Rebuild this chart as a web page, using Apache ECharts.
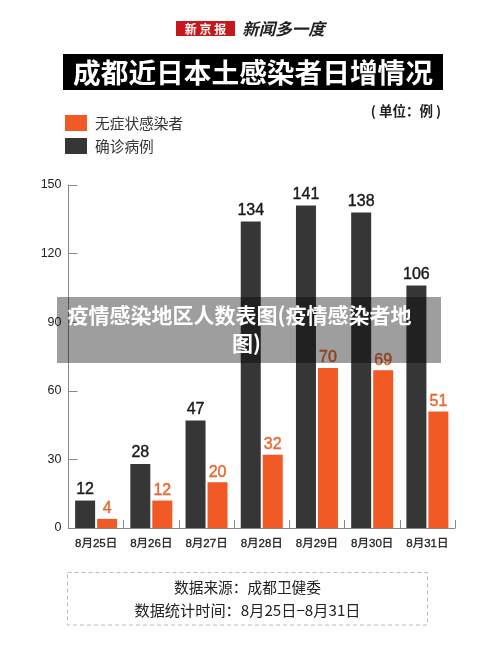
<!DOCTYPE html>
<html>
<head>
<meta charset="utf-8">
<style>
  html, body { margin: 0; padding: 0; background: #fff; }
  #main { width: 500px; height: 660px; }
</style>
<script src="https://cdn.jsdelivr.net/npm/echarts@6/dist/echarts.min.js"></script>
</head>
<body>
<div id="main"></div>
<script>
var categories = ['8月25日', '8月26日', '8月27日', '8月28日', '8月29日', '8月30日', '8月31日'];
var confirmed = [12, 28, 47, 134, 141, 138, 106];
var asymptomatic = [4, 12, 20, 32, 70, 69, 51];
var yTicks = [0, 30, 60, 90, 120, 150];

var cjk = '"Noto Sans CJK SC", sans-serif';
var latin = '"Liberation Sans", "Noto Sans CJK SC", sans-serif';

var myChart = echarts.init(document.getElementById('main'), null, { renderer: 'canvas' });

function txt(x, y, text, size, color, extra) {
  var style = { x: x, y: y, text: text, fontSize: size, fill: color, fontFamily: cjk, textAlign: 'center', textVerticalAlign: 'middle' };
  for (var k in extra) style[k] = extra[k];
  return { type: 'text', z: 10, style: style };
}

var option = {
  animation: false,
  backgroundColor: '#fff',
  grid: { left: 68.5, right: 45, top: 185, bottom: 132, containLabel: false },
  legend: {
    left: 65, top: 115, orient: 'vertical', padding: 0,
    itemWidth: 22, itemHeight: 16, itemGap: 7,
    icon: 'rect',
    data: ['无症状感染者', '确诊病例'],
    textStyle: { fontFamily: cjk, fontSize: 14.7, color: '#333', padding: [0, 0, 0, 3] }
  },
  xAxis: {
    type: 'category',
    data: categories,
    axisLine: { lineStyle: { color: '#888', width: 1 } },
    axisTick: { show: true, inside: true, length: 8, alignWithLabel: false, lineStyle: { color: '#888' } },
    axisLabel: { fontFamily: latin, fontSize: 11.5, color: '#222', textBorderColor: '#222', textBorderWidth: 0.3, margin: 10 }
  },
  yAxis: {
    type: 'value',
    min: yTicks[0], max: yTicks[yTicks.length - 1], interval: 30,
    axisLine: { show: true, lineStyle: { color: '#888', width: 1 } },
    axisTick: { show: true, inside: true, length: 9, lineStyle: { color: '#888' } },
    splitLine: { show: false },
    axisLabel: { fontFamily: latin, fontSize: 12.5, color: '#222', margin: 7 }
  },
  series: [
    {
      name: '确诊病例', type: 'bar', data: confirmed,
      barWidth: 20, barGap: '10%',
      itemStyle: { color: '#363636' },
      label: { show: true, position: 'top', distance: 3, fontFamily: latin, fontSize: 16, color: '#1a1a1a', textBorderColor: '#1a1a1a', textBorderWidth: 0.4 }
    },
    {
      name: '无症状感染者', type: 'bar', data: asymptomatic,
      barWidth: 20,
      itemStyle: { color: '#f15a24' },
      label: { show: true, position: 'top', distance: 2, fontFamily: latin, fontSize: 16, color: '#e8662f', textBorderColor: '#e8662f', textBorderWidth: 0.4 }
    }
  ],
  graphic: [
    // masthead
    { type: 'rect', z: 10, shape: { x: 176, y: 21, width: 59, height: 15 }, style: { fill: '#c8161d' } },
    txt(205.5, 29, '新 京 报', 12, '#fff', { fontWeight: 'bold' }),
    txt(283.5, 29, '新闻多一度', 16.5, '#222', { fontWeight: 'bold', fontStyle: 'italic' }),
    // title
    { type: 'rect', z: 10, shape: { x: 63, y: 54, width: 380, height: 36 }, style: { fill: '#000' } },
    txt(253, 72, '成都近日本土感染者日增情况', 27.7, '#fff', { fontWeight: 'bold' }),
    txt(406, 111, '( 单位：例 )', 13.5, '#222', { fontWeight: 'bold' }),
    // source box
    { type: 'rect', z: 10, shape: { x: 67.5, y: 572.5, width: 360, height: 52.5 },
      style: { fill: 'none', stroke: '#bbb', lineWidth: 1, lineDash: [4, 3] } },
    txt(247.5, 587, '数据来源：成都卫健委', 14.7, '#222'),
    txt(247.5, 610, '数据统计时间：8月25日−8月31日', 15.2, '#222'),
    // overlay banner
    { type: 'rect', z: 100, shape: { x: 57, y: 297, width: 384, height: 66 }, style: { fill: 'rgba(0,0,0,0.38)' } },
    { type: 'text', z: 101, style: { x: 239.5, y: 315, text: '疫情感染地区人数表图(疫情感染者地', fontSize: 21, fontWeight: 'bold', fill: '#fff', fontFamily: cjk, textAlign: 'center', textVerticalAlign: 'middle' } },
    { type: 'text', z: 101, style: { x: 246.5, y: 343, text: '图)', fontSize: 21, fontWeight: 'bold', fill: '#fff', fontFamily: cjk, textAlign: 'center', textVerticalAlign: 'middle' } }
  ]
};

myChart.setOption(option);
</script>
</body>
</html>
